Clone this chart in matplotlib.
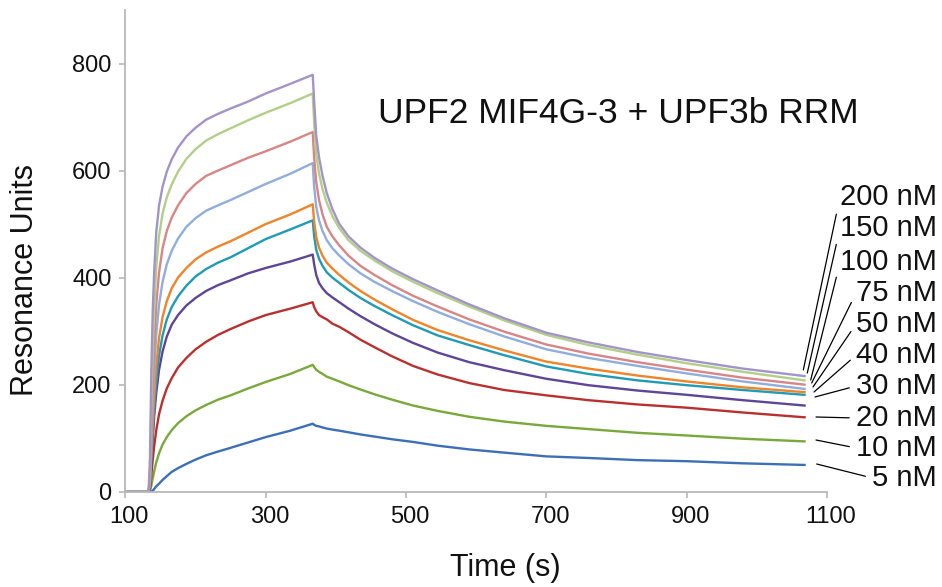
import matplotlib
matplotlib.use("Agg")
import matplotlib.pyplot as plt
import matplotlib.transforms as mtransforms

plt.rcParams['font.family'] = ['Liberation Sans', 'DejaVu Sans']

# ---- data (association, then dissociation) ----
time_s = [100, 133, 135, 137, 139, 141, 144, 148, 153, 159, 166, 175, 187, 200,
          215, 232, 250, 275, 300, 335, 367,
          369, 372, 376, 381, 387, 395, 405, 418, 435, 455, 480, 510, 545, 590,
          640, 700, 760, 830, 900, 980, 1068]

ru_5 = [0, 0, 0, 0, 2, 5, 10, 15, 22, 29, 37, 44, 52, 60, 68, 75, 82, 92, 102, 114, 127] + \
       [125, 123, 122, 120, 118, 116, 114, 111, 107, 103, 98, 93, 86, 79, 73, 66, 63, 59, 57, 53, 50]
ru_10 = [0, 0, 2, 12, 25, 38, 55, 72, 88, 102, 115, 128, 141, 152, 162, 172, 180, 193, 205, 220, 237] + \
        [233, 228, 224, 220, 215, 211, 206, 199, 191, 182, 172, 161, 151, 140, 131, 123, 117, 110, 105, 99, 94]
ru_20 = [0, 0, 5, 32, 60, 85, 115, 145, 170, 193, 212, 232, 250, 266, 280, 293, 304, 318, 330, 342, 354] + \
        [345, 337, 330, 326, 322, 314, 308, 298, 284, 270, 253, 235, 219, 203, 190, 180, 171, 163, 157, 148, 139]
ru_30 = [0, 0, 8, 50, 100, 140, 185, 228, 262, 290, 312, 330, 348, 362, 375, 386, 395, 408, 418, 430, 443] + \
        [425, 405, 390, 380, 371, 363, 354, 342, 328, 313, 296, 278, 260, 242, 227, 211, 199, 189, 181, 171, 161]
ru_40 = [0, 0, 12, 60, 110, 155, 205, 255, 292, 322, 345, 365, 385, 402, 416, 428, 438, 455, 472, 490, 507] + \
        [478, 452, 435, 422, 410, 400, 390, 377, 362, 347, 330, 311, 292, 274, 255, 234, 220, 208, 199, 190, 181]
ru_50 = [0, 0, 15, 72, 130, 178, 235, 288, 326, 356, 380, 400, 418, 434, 447, 458, 468, 484, 500, 518, 537] + \
        [505, 476, 456, 441, 428, 417, 405, 391, 375, 359, 341, 321, 302, 283, 264, 243, 230, 217, 206, 195, 186]
ru_75 = [0, 0, 20, 95, 170, 225, 295, 350, 392, 425, 450, 473, 495, 511, 525, 535, 545, 560, 575, 594, 614] + \
        [570, 532, 507, 487, 470, 455, 441, 425, 408, 392, 375, 356, 336, 313, 290, 266, 250, 235, 221, 206, 192]
ru_100 = [0, 0, 25, 120, 210, 275, 350, 410, 455, 487, 512, 535, 558, 575, 590, 600, 610, 624, 636, 654, 672] + \
         [625, 578, 545, 518, 495, 477, 460, 441, 422, 405, 386, 366, 346, 322, 299, 275, 258, 242, 228, 213, 200]
ru_150 = [0, 0, 40, 170, 270, 340, 420, 478, 520, 550, 574, 598, 622, 640, 656, 668, 679, 694, 708, 726, 744] + \
         [690, 630, 595, 565, 540, 515, 492, 470, 450, 432, 412, 392, 371, 346, 320, 293, 274, 256, 240, 224, 208]
ru_200 = [0, 0, 60, 230, 340, 410, 485, 535, 570, 598, 621, 643, 664, 680, 695, 706, 716, 729, 744, 762, 779] + \
         [730, 665, 625, 590, 558, 528, 500, 477, 456, 437, 417, 397, 376, 350, 324, 297, 279, 261, 246, 230, 216]

conc_labels = ['5 nM', '10 nM', '20 nM', '30 nM', '40 nM',
               '50 nM', '75 nM', '100 nM', '150 nM', '200 nM']
series = [ru_5, ru_10, ru_20, ru_30, ru_40, ru_50, ru_75, ru_100, ru_150, ru_200]
colors = ['#3d6fb6', '#79a83b', '#b8312f', '#5e4596', '#1f9bb5',
          '#f0842a', '#8faedc', '#d98585', '#b2cf88', '#a394c8']

# label positions (figure pixels, from top) and leader line ends
label_y = [478, 448, 418, 386, 355, 324, 293, 262, 228, 197]
line_end = [(816.7, 464), (816, 440), (816, 417), (815, 397), (814, 392),
            (813, 387), (811.7, 383), (810.7, 380), (807.3, 373), (803.3, 370)]

W, H = 942, 587
fig = plt.figure(figsize=(W / 100, H / 100), dpi=100)
ax = fig.add_axes([125.4 / W, (H - 491.7) / H, 701.6 / W, 481.7 / H])

for ys, c in zip(series, colors):
    ax.plot(time_s, ys, color=c, lw=1.7, solid_joinstyle='round')

ax.set_xlim(100, 1100)
ax.set_ylim(0, 900)
ax.set_xticks([100, 300, 500, 700, 900, 1100])
ax.set_yticks([0, 200, 400, 600, 800])

for s in ['top', 'right']:
    ax.spines[s].set_visible(False)
for s in ['left', 'bottom']:
    ax.spines[s].set_color('#b8b8b8')
    ax.spines[s].set_linewidth(1.3)
ax.tick_params(axis='both', colors='#b8b8b8', length=4, width=1.2,
               labelcolor='#111111', labelsize=17)
ax.tick_params(axis='x', pad=6)
ax.tick_params(axis='y', pad=6)

# x tick labels sit a touch right of their ticks in the original
shift = mtransforms.ScaledTranslation(4 / 100, 0, fig.dpi_scale_trans)
for lab in ax.get_xticklabels():
    lab.set_transform(lab.get_transform() + shift)

ax.set_xlabel('Time (s)', fontsize=22, color='#111111')
ax.set_ylabel('Resonance Units', fontsize=22, color='#111111')
ax.xaxis.set_label_coords(0.541, -0.127)
ax.yaxis.set_label_coords(-0.122, 0.44)

ax.text(460, 706, 'UPF2 MIF4G-3 + UPF3b RRM', fontsize=25.5,
        color='#111111', ha='left', va='center')

for lab, ly, (ex, ey) in zip(conc_labels, label_y, line_end):
    ax.annotate(lab, xy=(ex, H - ey), xycoords='figure pixels',
                xytext=(937, H - ly), textcoords='figure pixels',
                ha='right', va='center', fontsize=21, color='#111111',
                arrowprops=dict(arrowstyle='-', color='black', lw=0.9,
                                relpos=(0, 0.5), shrinkA=3, shrinkB=0))

fig.savefig('out.png', dpi=100)
